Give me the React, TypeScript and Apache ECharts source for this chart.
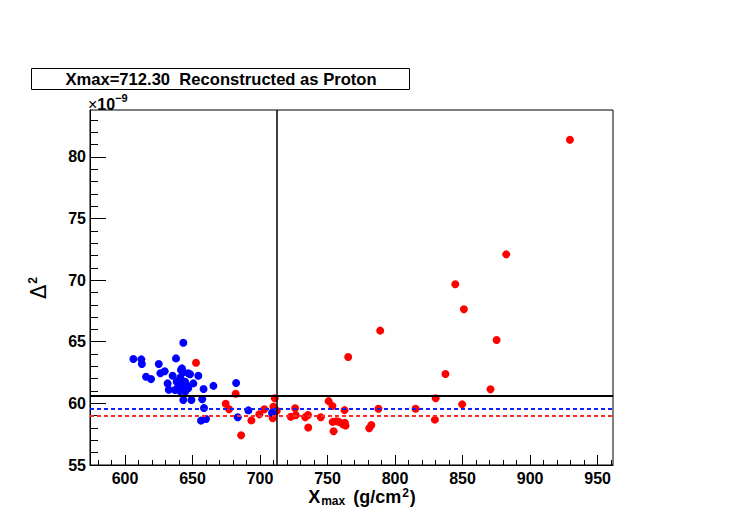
import React, { useEffect, useRef } from "react";
import * as echarts from "echarts";

// ---- data (Delta^2 in units of 1e-9) ----
const blueData: [number, number][] = [
  [643.2, 64.92], [606.2, 63.6], [612.1, 63.57], [612.5, 63.2], [625.0, 63.2],
  [637.8, 63.65], [615.6, 62.16], [619.3, 61.97], [626.2, 62.44], [629.4, 62.6],
  [642.2, 62.84], [641.5, 62.7], [643.2, 62.52], [646.9, 62.44], [635.3, 62.24],
  [648.2, 62.36], [654.3, 62.24], [631.6, 61.62], [638.3, 61.76], [640.8, 61.89],
  [644.5, 61.76], [650.6, 61.62], [639.5, 61.35], [643.2, 61.35], [646.9, 61.22],
  [632.4, 61.1], [637.0, 61.08], [640.8, 61.0], [644.5, 60.95], [642.0, 61.5],
  [645.5, 61.5], [641.0, 62.1], [658.2, 61.16], [665.5, 61.42], [643.2, 60.27],
  [649.2, 60.27], [657.2, 60.33], [658.5, 59.62], [656.3, 58.6], [660.0, 58.73],
  [682.3, 61.65], [691.4, 59.43], [683.5, 58.87], [708.9, 59.24],
];

const redData: [number, number][] = [
  [652.6, 63.3], [682.0, 60.78], [674.6, 59.97], [677.1, 59.52], [686.0, 57.41],
  [693.6, 58.62], [699.5, 59.11], [703.2, 59.52], [710.9, 60.42], [709.9, 59.72],
  [712.4, 59.4], [709.9, 59.06], [709.4, 58.79], [722.8, 58.92], [726.0, 59.6],
  [726.5, 59.03], [733.5, 58.88], [735.5, 59.06], [735.7, 58.04], [745.0, 58.88],
  [750.8, 60.18], [753.6, 59.78], [762.6, 59.45], [753.8, 58.5], [754.5, 57.74],
  [756.6, 58.55], [758.5, 58.5], [761.2, 58.3], [762.8, 58.43], [763.3, 58.2],
  [765.3, 63.76], [789.0, 65.9], [787.7, 59.57], [780.9, 57.98], [782.4, 58.24],
  [815.2, 59.57], [829.5, 58.68], [830.1, 60.41], [837.3, 62.38], [844.6, 69.66],
  [849.7, 59.92], [851.0, 67.63], [870.7, 61.14], [875.2, 65.14], [882.3, 72.09],
  [929.5, 81.38],
];

const xMajorTicks = [600, 650, 700, 750, 800, 850, 900, 950];
const xMinorTicks = [
  580, 590, 610, 620, 630, 640, 660, 670, 680, 690, 710, 720, 730, 740,
  760, 770, 780, 790, 810, 820, 830, 840, 860, 870, 880, 890, 910, 920,
  930, 940, 960,
];
const yMajorTicks = [55, 60, 65, 70, 75, 80];
const yMinorTicks = [
  56, 57, 58, 59, 61, 62, 63, 64, 66, 67, 68, 69, 71, 72, 73, 74, 76, 77, 78, 79, 81, 82, 83,
];
const xRange = [574.1, 961.4];
const yRange = [55, 83.8];
const xmaxCut = 712.3;
const deltaCut = 60.65;
const blueMeanLine = 59.59;
const redMeanLine = 59.0;
const titleText = "Xmax=712.30  Reconstructed as Proton";

const FONT = "'Liberation Sans', Arial, Helvetica, sans-serif";

export default function App() {
  const ref = useRef<HTMLDivElement>(null);

  useEffect(() => {
    if (!ref.current) return;
    const chart = echarts.init(ref.current, undefined, { renderer: "svg" });

    const baseX = {
      type: "value" as const,
      min: xRange[0],
      max: xRange[1],
      position: "bottom" as const,
      splitLine: { show: false },
    };
    const baseY = {
      type: "value" as const,
      min: yRange[0],
      max: yRange[1],
      position: "left" as const,
      splitLine: { show: false },
    };

    chart.setOption({
      animation: false,
      backgroundColor: "#ffffff",
      grid: {
        left: 90,
        top: 110,
        right: 134,
        bottom: 63,
        show: true,
        borderColor: "#000",
        borderWidth: 1,
        backgroundColor: "transparent",
        containLabel: false,
        outerBoundsMode: "none",
      },
      xAxis: [
        {
          ...baseX,
          axisLine: { show: true, lineStyle: { color: "#000", width: 1 } },
          axisTick: {
            show: true,
            inside: true,
            length: 10,
            customValues: xMajorTicks,
            lineStyle: { color: "#000", width: 1 },
          },
          axisLabel: {
            show: true,
            customValues: xMajorTicks,
            margin: 6,
            fontSize: 16,
            lineHeight: 15,
            fontWeight: "bold",
            fontFamily: FONT,
            color: "#000",
            formatter: (v: number) => String(Math.round(v)),
          },
        },
        {
          ...baseX,
          axisLine: { show: false },
          axisTick: {
            show: true,
            inside: true,
            length: 5,
            customValues: xMinorTicks,
            lineStyle: { color: "#000", width: 1 },
          },
          axisLabel: { show: false },
        },
      ],
      yAxis: [
        {
          ...baseY,
          axisLine: { show: true, lineStyle: { color: "#000", width: 1 } },
          axisTick: {
            show: true,
            inside: true,
            length: 16,
            customValues: yMajorTicks,
            lineStyle: { color: "#000", width: 1 },
          },
          axisLabel: {
            show: true,
            customValues: yMajorTicks,
            margin: 4,
            fontSize: 16,
            fontWeight: "bold",
            fontFamily: FONT,
            color: "#000",
            formatter: (v: number) => String(Math.round(v)),
          },
        },
        {
          ...baseY,
          axisLine: { show: false },
          axisTick: {
            show: true,
            inside: true,
            length: 8,
            customValues: yMinorTicks,
            lineStyle: { color: "#000", width: 1 },
          },
          axisLabel: { show: false },
        },
      ],
      series: [
        {
          type: "scatter",
          name: "proton",
          data: redData,
          xAxisIndex: 0,
          yAxisIndex: 0,
          symbol: "circle",
          symbolSize: 8,
          itemStyle: { color: "#ff0000", opacity: 1 },
          z: 3,
          silent: true,
        },
        {
          type: "scatter",
          name: "other",
          data: blueData,
          xAxisIndex: 0,
          yAxisIndex: 0,
          symbol: "circle",
          symbolSize: 8,
          itemStyle: { color: "#0000ff", opacity: 1 },
          z: 4,
          silent: true,
        },
        {
          type: "scatter",
          name: "cuts",
          data: [],
          xAxisIndex: 0,
          yAxisIndex: 0,
          z: 5,
          silent: true,
          markLine: {
            silent: true,
            symbol: ["none", "none"],
            label: { show: false },
            animation: false,
            data: [
              { yAxis: blueMeanLine, lineStyle: { color: "#1a1aff", width: 2, type: [4, 3] } },
              { yAxis: redMeanLine, lineStyle: { color: "#ff2a2a", width: 2, type: [4, 3] } },
              { yAxis: deltaCut, lineStyle: { color: "#000", width: 2, type: "solid" } },
              { xAxis: xmaxCut, lineStyle: { color: "#000", width: 1.5, type: "solid" } },
            ],
          },
        },
      ],
      graphic: [
        {
          type: "rect",
          shape: { x: 31.5, y: 68.5, width: 378, height: 21 },
          style: { fill: "#fff", stroke: "#000", lineWidth: 1 },
          z: 10,
        },
        {
          type: "text",
          x: 221,
          y: 79.5,
          z: 11,
          style: {
            text: titleText,
            fontSize: 16.6,
            fontWeight: "bold",
            fontFamily: FONT,
            fill: "#000",
            align: "center",
            verticalAlign: "middle",
          },
        },
        {
          type: "text",
          x: 88,
          y: 102,
          z: 11,
          style: {
            text: "{m|×}{n|10}{p|−9}",
            fill: "#000",
            align: "left",
            verticalAlign: "middle",
            rich: {
              m: { fontSize: 16, fontFamily: FONT, fill: "#000", lineHeight: 20, verticalAlign: "bottom" },
              n: { fontSize: 16, fontWeight: "bold", fontFamily: FONT, fill: "#000", lineHeight: 20, verticalAlign: "bottom" },
              p: { fontSize: 11, fontWeight: "bold", fontFamily: FONT, fill: "#000", lineHeight: 20, verticalAlign: "top" },
            },
          },
        },
        {
          type: "text",
          x: 362,
          y: 497,
          z: 11,
          style: {
            text: "{a|X}{b|max}{a| (g/cm}{c|2}{a|)}",
            fill: "#000",
            align: "center",
            verticalAlign: "middle",
            rich: {
              a: { fontSize: 18, fontWeight: "bold", fontFamily: FONT, fill: "#000", lineHeight: 20, verticalAlign: "middle" },
              b: { fontSize: 12, fontWeight: "bold", fontFamily: FONT, fill: "#000", lineHeight: 20, verticalAlign: "bottom", padding: [0, 3, 0, 1] },
              c: { fontSize: 12, fontWeight: "bold", fontFamily: FONT, fill: "#000", lineHeight: 20, verticalAlign: "top", padding: [0, 1, 0, 1] },
            },
          },
        },
        {
          type: "text",
          x: 39,
          y: 288,
          rotation: Math.PI / 2,
          z: 11,
          style: {
            text: "{a|Δ}{c|2}",
            fill: "#000",
            align: "center",
            verticalAlign: "middle",
            rich: {
              a: { fontSize: 21, fontWeight: "normal", fontFamily: "'DejaVu Sans', " + FONT, fill: "#000", lineHeight: 24, verticalAlign: "middle" },
              c: { fontSize: 12, fontWeight: "bold", fontFamily: FONT, fill: "#000", lineHeight: 24, verticalAlign: "top", padding: [0, 0, 0, 1] },
            },
          },
        },
      ],
    });

    return () => {
      chart.dispose();
    };
  }, []);

  return (
    <div
      ref={ref}
      style={{ position: "absolute", left: 0, top: 0, width: 747, height: 528 }}
    />
  );
}
